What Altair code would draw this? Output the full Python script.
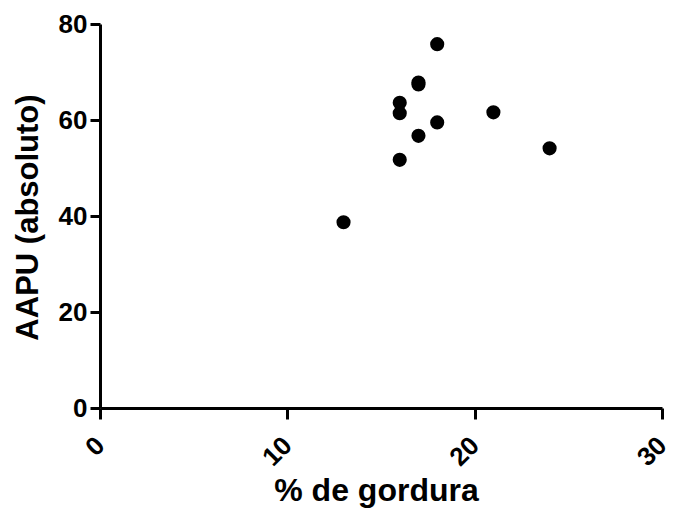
import altair as alt
import pandas as pd

gordura = [13, 16, 16, 16, 17, 17, 17, 18, 18, 21, 24]
aapu = [38.7, 63.6, 61.4, 51.7, 67.8, 67.4, 56.7, 75.8, 59.5, 61.6, 54.1]

df = pd.DataFrame({"gordura": gordura, "aapu": aapu})

FONT = "Liberation Sans"

chart = alt.Chart(df).mark_circle(size=200, color="black", opacity=1).encode(
    x=alt.X("gordura:Q",
            scale=alt.Scale(domain=[0, 30], nice=False, zero=False),
            axis=alt.Axis(title="% de gordura", values=[0, 10, 20, 30],
                          labelAngle=-45, labelAlign="right", labelBaseline="middle",
                          labelPadding=22, tickSize=11,
                          titleFontSize=32, titleX=276, titleY=92,
                          titleBaseline="alphabetic", titleAlign="center")),
    y=alt.Y("aapu:Q",
            scale=alt.Scale(domain=[0, 80], nice=False),
            axis=alt.Axis(title="AAPU (absoluto)", values=[0, 20, 40, 60, 80],
                          tickSize=10, labelPadding=3,
                          titleFontSize=31, titleX=-63, titleY=193,
                          titleAngle=-90, titleBaseline="alphabetic", titleAlign="center")),
).properties(
    width=562, height=384,
    autosize=alt.AutoSizeParams(type="none"),
    padding={"left": 92, "top": 16, "right": 10, "bottom": 100},
).configure_axis(
    grid=False,
    domainColor="black", domainWidth=3,
    tickColor="black", tickWidth=3,
    labelFont=FONT, labelFontSize=26, labelFontWeight="bold", labelColor="black",
    titleFont=FONT, titleFontWeight="bold", titleColor="black",
    labelFlush=False, labelOverlap=False,
).configure_view(stroke=None)

chart.save("out.html", embed_options={"renderer": "svg", "actions": False})
